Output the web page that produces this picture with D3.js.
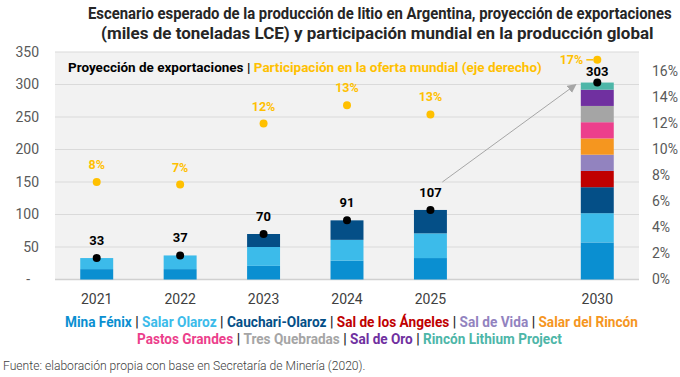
<!DOCTYPE html>
<html lang="es">
<head>
  <meta charset="UTF-8">
  <title>Litio Argentina</title>
  <script src="https://d3js.org/d3.v7.min.js"></script>
  <style>
    body { margin: 0; background: #fff; font-family: Roboto, sans-serif; }
    svg { display: block; }
  </style>
</head>
<body>
  <div id="chart"></div>
  <script>
    // data
    const years = ["2021", "2022", "2023", "2024", "2025", "2030"];
    const slots = ["2021", "2022", "2023", "2024", "2025", "gap", "2030"];
    const projects = ["Mina Fénix", "Salar Olaroz", "Cauchari-Olaroz", "Sal de los Ángeles", "Sal de Vida",
                      "Salar del Rincón", "Pastos Grandes", "Tres Quebradas", "Sal de Oro", "Rincón Lithium Project"];
    const colors = ["#0a8fd1", "#3cbbea", "#044f87", "#c00000", "#9283bf",
                    "#f5961f", "#ec3f8c", "#a5a5a5", "#7030a0", "#4db6a8"];
    const minaFenix     = [16, 16, 21, 29, 33, 57];
    const salarOlaroz   = [17, 21, 29, 32, 38, 45];
    const cauchari      = [0, 0, 20, 30, 36, 40];
    const salAngeles    = [0, 0, 0, 0, 0, 25];
    const salVida       = [0, 0, 0, 0, 0, 25];
    const salarRincon   = [0, 0, 0, 0, 0, 25];
    const pastosGrandes = [0, 0, 0, 0, 0, 25];
    const tresQuebradas = [0, 0, 0, 0, 0, 25];
    const salOro        = [0, 0, 0, 0, 0, 25];
    const rinconLithium = [0, 0, 0, 0, 0, 11];
    const totals = [33, 37, 70, 91, 107, 303];
    const share = [7.5, 7.3, 12.0, 13.4, 12.7, 16.9];
    const shareLabels = ["8%", "7%", "12%", "13%", "13%", "17%"];
    const leftTicks = [0, 50, 100, 150, 200, 250, 300, 350];
    const rightTicks = [0, 2, 4, 6, 8, 10, 12, 14, 16];

    const seriesValues = [minaFenix, salarOlaroz, cauchari, salAngeles, salVida,
                          salarRincon, pastosGrandes, tresQuebradas, salOro, rinconLithium];
    const rows = years.map((yr, i) => {
      const r = { year: yr };
      projects.forEach((p, j) => r[p] = seriesValues[j][i]);
      return r;
    });

    const w = 680, h = 377;
    const pLeft = 55, pRight = 639, pTop = 52, pBottom = 279.5;

    const svg = d3.select("#chart").append("svg").attr("width", w).attr("height", h);

    const x = d3.scaleBand().domain(slots).range([pLeft, pRight]).paddingInner(0.605).paddingOuter(0.3025);
    const y = d3.scaleLinear().domain([0, 350]).range([pBottom, pTop]);
    const y2 = d3.scaleLinear().domain([0, 17.5]).range([pBottom, pTop]);

    // writes pieces of text side by side, then squeezes the group to a given width
    function textRow(px, py, width, size, weight, pieces) {
      const g = svg.append("g");
      let cur = 0;
      pieces.forEach(([str, fill]) => {
        const t = g.append("text").attr("x", cur).attr("y", 0).attr("font-size", size)
                   .attr("font-weight", weight).attr("fill", fill).style("white-space", "pre").text(str);
        cur += t.node().getComputedTextLength();
      });
      const k = width ? width / cur : 1;
      g.attr("transform", `translate(${px},${py}) scale(${k},1)`);
      return g;
    }

    // plot background
    svg.append("rect").attr("x", pLeft).attr("y", pTop).attr("width", pRight - pLeft).attr("height", pBottom - pTop)
       .attr("fill", "#f2f2f2");

    // grid
    svg.append("g").selectAll("line").data(leftTicks).join("line")
       .attr("x1", pLeft).attr("x2", pRight)
       .attr("y1", d => y(d)).attr("y2", d => y(d))
       .attr("stroke", d => d === 0 ? "#d0d0d0" : "#dadada").attr("stroke-width", d => d === 0 ? 1.5 : 1.2);

    // left axis
    const yAxis = d3.axisLeft(y).tickValues(leftTicks).tickSize(0).tickPadding(0)
                    .tickFormat(d => d === 0 ? "-" : d);
    const gy = svg.append("g").attr("transform", "translate(39,0)").call(yAxis);
    gy.select(".domain").remove();
    gy.selectAll("text").attr("font-size", 14).attr("fill", "#595959").attr("font-family", "Roboto");
    gy.selectAll("text").filter(d => d === 0).attr("dx", -9);

    // right axis
    const yAxis2 = d3.axisRight(y2).tickValues(rightTicks).tickSize(0).tickPadding(0)
                     .tickFormat(d => d + "%");
    const gy2 = svg.append("g").attr("transform", "translate(652,0)").call(yAxis2);
    gy2.select(".domain").remove();
    gy2.selectAll("text").attr("font-size", 14).attr("fill", "#595959").attr("font-family", "Roboto");

    // x axis
    const xAxis = d3.axisBottom(x).tickSize(0).tickPadding(0).tickFormat(d => d === "gap" ? "" : d);
    const gx = svg.append("g").attr("transform", `translate(0,${pBottom + 24})`).call(xAxis);
    gx.select(".domain").remove();
    gx.selectAll("text").attr("font-size", 14).attr("fill", "#404040").attr("font-family", "Roboto")
      .attr("dy", "0");

    // stacked bars
    const stack = d3.stack().keys(projects)(rows);
    svg.append("g").selectAll("g").data(stack).join("g")
       .attr("fill", (d, i) => colors[i])
       .selectAll("rect").data(d => d.filter(s => s[1] > s[0])).join("rect")
       .attr("x", d => x(d.data.year)).attr("width", x.bandwidth())
       .attr("y", d => y(d[1])).attr("height", d => y(d[0]) - y(d[1]));

    // arrow 2025 -> 2030
    svg.append("defs").append("marker").attr("id", "arr").attr("viewBox", "0 0 10 10")
       .attr("refX", 9).attr("refY", 5).attr("markerWidth", 9).attr("markerHeight", 9)
       .attr("orient", "auto-start-reverse").attr("markerUnits", "userSpaceOnUse")
       .append("path").attr("d", "M0,0L10,5L0,10z").attr("fill", "#a6a6a6");
    svg.append("line")
       .attr("x1", x("2025") + x.bandwidth() / 2 + 12).attr("y1", y(107) - 28)
       .attr("x2", x("2030") - 5).attr("y2", y(303) + 2)
       .attr("stroke", "#a6a6a6").attr("stroke-width", 1).attr("marker-end", "url(#arr)");

    const cx = d => x(d) + x.bandwidth() / 2;
    const last = years.length - 1;

    // totals
    svg.append("g").selectAll("circle").data(years).join("circle")
       .attr("cx", d => cx(d)).attr("cy", (d, i) => y(totals[i])).attr("r", 4).attr("fill", "#000");
    svg.append("g").selectAll("text").data(years).join("text")
       .attr("x", d => cx(d)).attr("y", (d, i) => y(totals[i]) - (i === last ? 6.5 : 13))
       .attr("text-anchor", "middle").attr("font-size", 13).attr("font-weight", 700).attr("fill", "#000")
       .text((d, i) => totals[i]);

    // world share
    svg.append("line")
       .attr("x1", cx("2030") - 11).attr("x2", cx("2030") - 4)
       .attr("y1", y2(share[last])).attr("y2", y2(share[last]))
       .attr("stroke", "#ffc000").attr("stroke-width", 1.5);
    svg.append("g").selectAll("circle").data(years).join("circle")
       .attr("cx", d => cx(d)).attr("cy", (d, i) => y2(share[i])).attr("r", 4).attr("fill", "#ffc000");
    svg.append("g").selectAll("text").data(years).join("text")
       .attr("x", (d, i) => i === last ? cx(d) - 14 : cx(d))
       .attr("y", (d, i) => i === last ? y2(share[i]) + 4 : y2(share[i]) - 13)
       .attr("text-anchor", (d, i) => i === last ? "end" : "middle")
       .attr("font-size", 12.5).attr("font-weight", 700).attr("fill", "#ffc000")
       .text((d, i) => shareLabels[i]);

    // inner legend
    textRow(68, 72, 474, 13, 700, [["Proyección de exportaciones | ", "#000"],
                                   ["Participación en la oferta mundial (eje derecho)", "#ffc000"]]);

    // title
    textRow(88, 19, 584, 16, 700,
      [["Escenario esperado de la producción de litio en Argentina, proyección de exportaciones", "#262626"]]);
    textRow(101, 39, 553, 16, 700,
      [["(miles de toneladas LCE) y participación mundial en la producción global", "#262626"]]);

    // bottom legend
    [[0, 6, 65, 327, 573], [6, 10, 137, 344, 425]].forEach(([a, b, lx, ly, lw]) => {
      const pieces = [];
      projects.slice(a, b).forEach((p, k) => {
        if (k > 0) pieces.push([" | ", "#262626"]);
        pieces.push([p, colors[a + k]]);
      });
      textRow(lx, ly, lw, 15, 700, pieces);
    });

    // source
    textRow(3, 370, 363, 12.5, 300,
      [["Fuente: elaboración propia con base en Secretaría de Minería (2020).", "#404040"]]);
  </script>
</body>
</html>
